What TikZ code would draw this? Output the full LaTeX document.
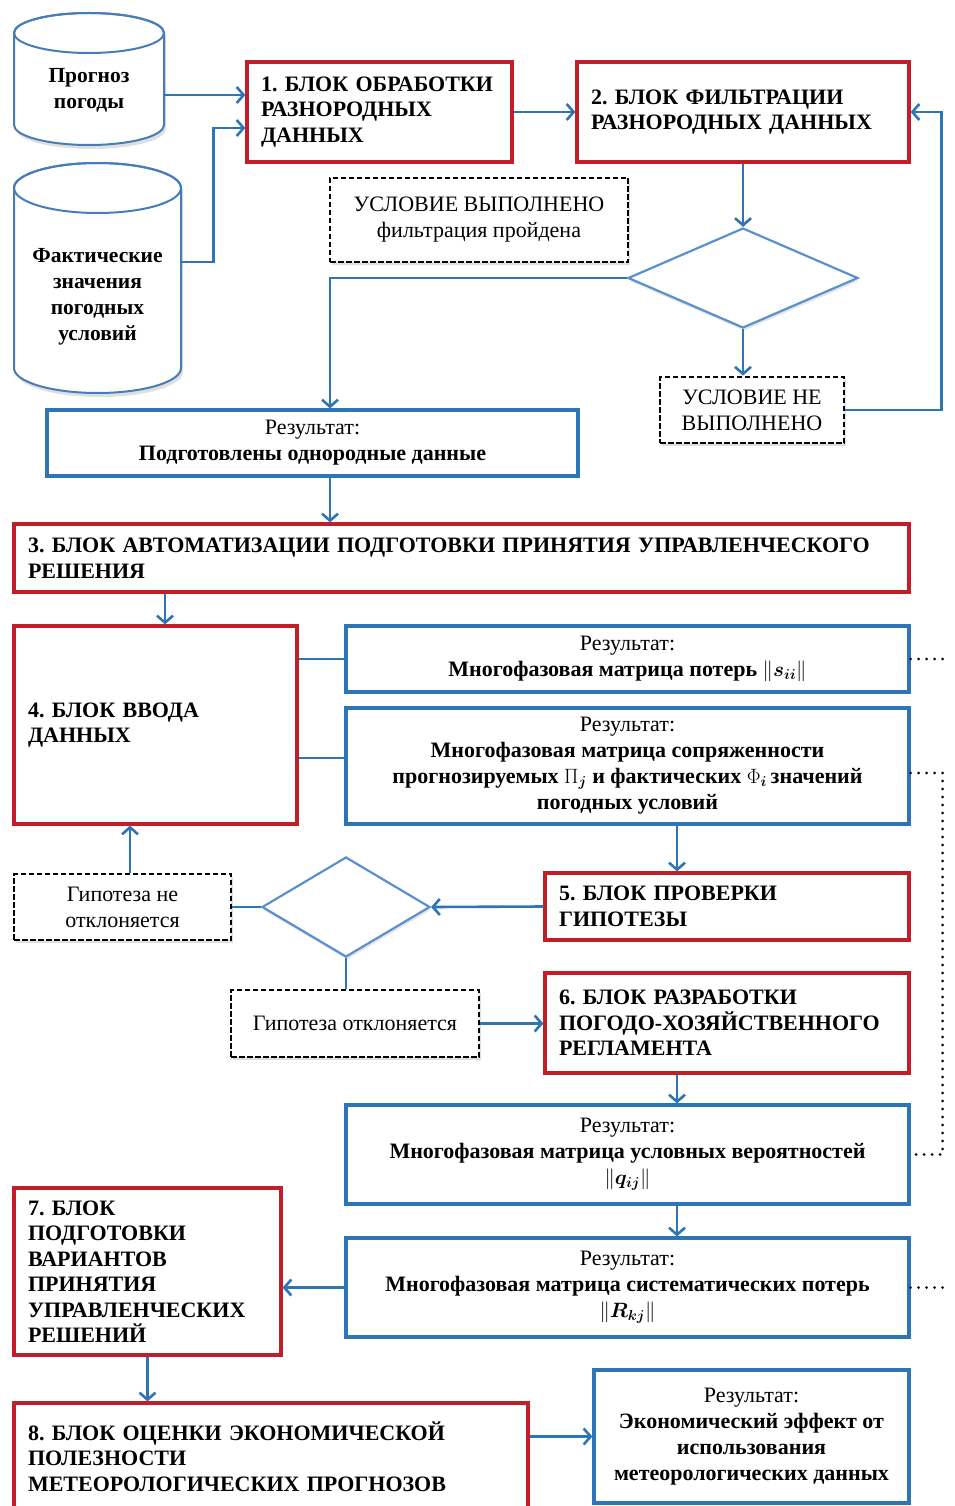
\documentclass[tikz,border=0pt]{standalone}
\usepackage{amsmath,bm}
\usepackage{fontspec}
\setmainfont{Liberation Serif}
\usetikzlibrary{arrows.meta,shapes.geometric,shadows,calc}
\definecolor{redc}{RGB}{192,30,40}
\definecolor{bluec}{RGB}{46,117,182}
\definecolor{cylc}{RGB}{70,125,185}
\definecolor{diac}{RGB}{90,145,205}
\frenchspacing
\newcommand\ttlfont{\fontsize{22}{25.5}\selectfont\bfseries}
\newcommand\resfont{\fontsize{22}{26}\selectfont}
\newcommand\cylfont{\fontsize{21.5}{26}\selectfont\bfseries}
\newcommand\dashfont{\fontsize{22}{26}\selectfont}
\tikzset{
  redbox/.style={draw=redc, line width=3.2pt, fill=white, align=left,
    inner xsep=14pt, inner ysep=0pt, font=\ttlfont},
  bluebox/.style={draw=bluec, line width=3.2pt, fill=white, align=center,
    inner sep=0pt, font=\resfont},
  dashbox/.style={draw=black, line width=2.8pt, dash pattern=on 5.5pt off 2.5pt,
    fill=white, align=center, inner sep=0pt, font=\dashfont,
    drop shadow={shadow xshift=2pt, shadow yshift=-3pt, opacity=.25}},
  diam/.style={diamond, draw=diac, line width=2.2pt, fill=white, inner sep=0pt,
    aspect=2.3, drop shadow={shadow xshift=1pt, shadow yshift=-3pt, opacity=.2}},
  cyltext/.style={align=center, inner sep=0pt, font=\cylfont},
  cylbody/.style={draw=cylc, line width=2pt, fill=white,
    drop shadow={shadow xshift=2pt, shadow yshift=-4pt, opacity=.25}},
  arr/.style={draw=bluec, line width=2.6pt, -{Straight Barb[length=7pt,width=16pt]}},
  link/.style={draw=bluec, line width=2.6pt},
  dots/.style={draw=black, line width=2.8pt, dash pattern=on 0pt off 8pt, line cap=round}
}
\begin{document}
\begin{tikzpicture}[x=1pt,y=-1pt]
\useasboundingbox (0,0) rectangle (954,1506);
\clip (0,0) rectangle (954,1506);
\fill[white] (0,0) rectangle (954,1506);

% data sources drawn as cylinders
\path[cylbody] (14,33) -- (14,125) arc[start angle=180, end angle=360, x radius=75pt, y radius=20pt] -- (164,33)
  arc[start angle=0, end angle=180, x radius=75pt, y radius=20pt] -- cycle;
\draw[draw=cylc, line width=2pt] (89,33) ellipse[x radius=75pt, y radius=20pt];
\node[cyltext, minimum width=150pt] (c1) at (89,90) {Прогноз\\погоды};

\path[cylbody] (14,188) -- (14,368) arc[start angle=180, end angle=360, x radius=83.5pt, y radius=25pt] -- (181,188)
  arc[start angle=0, end angle=180, x radius=83.5pt, y radius=25pt] -- cycle;
\draw[draw=cylc, line width=2pt] (97.5,188) ellipse[x radius=83.5pt, y radius=25pt];
\node[cyltext, minimum width=167pt] (c2) at (97.5,297) {Фактические\\значения\\погодных\\условий};

% processing blocks
\node[redbox, minimum width=265pt, minimum height=100pt, text width=237pt] (b1) at (379.5,112)
  {1. БЛОК ОБРАБОТКИ\\РАЗНОРОДНЫХ\\ДАННЫХ};
\node[redbox, minimum width=332pt, minimum height=100pt, text width=304pt] (b2) at (743,112)
  {2. БЛОК ФИЛЬТРАЦИИ\\РАЗНОРОДНЫХ ДАННЫХ};
\node[dashbox, minimum width=298pt, minimum height=84pt] (cond1) at (479,220)
  {УСЛОВИЕ ВЫПОЛНЕНО\\фильтрация пройдена};
\node[diam, minimum width=230pt, minimum height=100pt] (d1) at (743,278) {};
\node[dashbox, minimum width=184pt, minimum height=66pt] (cond2) at (752,410)
  {УСЛОВИЕ НЕ\\ВЫПОЛНЕНО};
\node[bluebox, minimum width=531pt, minimum height=66pt] (r1) at (312.5,443)
  {Результат:\\\textbf{Подготовлены однородные данные}};
\node[redbox, minimum width=895pt, minimum height=68pt, text width=867pt] (b3) at (461.5,558)
  {3. БЛОК АВТОМАТИЗАЦИИ ПОДГОТОВКИ ПРИНЯТИЯ УПРАВЛЕНЧЕСКОГО\\РЕШЕНИЯ};
\node[redbox, minimum width=283pt, minimum height=198pt, text width=255pt] (b4) at (155.5,725)
  {4. БЛОК ВВОДА\\ДАННЫХ};
\node[bluebox, minimum width=563pt, minimum height=66pt] (r2) at (627.5,659)
  {Результат:\\\textbf{Многофазовая матрица потерь} $\|\bm{s}_{\bm{ii}}\|$};
\node[bluebox, minimum width=563pt, minimum height=116pt] (r3) at (627.5,766)
  {Результат:\\\textbf{Многофазовая матрица сопряженности}\\
   \textbf{прогнозируемых} $\Pi_{\bm{j}}$ \textbf{и фактических} $\Phi_{\bm{i}}$\,\textbf{значений}\\
   \textbf{погодных условий}};
\node[redbox, minimum width=364pt, minimum height=67pt, text width=336pt] (b5) at (727,906.5)
  {5. БЛОК ПРОВЕРКИ\\ГИПОТЕЗЫ};
\node[diam, minimum width=168pt, minimum height=100pt] (d2) at (346,907) {};
\node[dashbox, minimum width=217pt, minimum height=66pt] (h1) at (122.5,907)
  {Гипотеза не\\отклоняется};
\node[dashbox, minimum width=248pt, minimum height=67pt] (h2) at (355,1023.5)
  {Гипотеза отклоняется};
\node[redbox, minimum width=364pt, minimum height=100pt, text width=336pt] (b6) at (727,1023)
  {6. БЛОК РАЗРАБОТКИ\\ПОГОДО-ХОЗЯЙСТВЕННОГО\\РЕГЛАМЕНТА};
\node[bluebox, minimum width=563pt, minimum height=99pt] (r4) at (627.5,1154.5)
  {Результат:\\\textbf{Многофазовая матрица условных вероятностей}\\$\|\bm{q}_{\bm{ij}}\|$};
\node[bluebox, minimum width=563pt, minimum height=99pt] (r5) at (627.5,1287.5)
  {Результат:\\\textbf{Многофазовая матрица систематических потерь}\\$\|\bm{R}_{\bm{kj}}\|$};
\node[redbox, minimum width=267pt, minimum height=167pt, text width=239pt] (b7) at (147.5,1271.5)
  {7. БЛОК\\ПОДГОТОВКИ\\ВАРИАНТОВ\\ПРИНЯТИЯ\\УПРАВЛЕНЧЕСКИХ\\РЕШЕНИЙ};
\node[redbox, minimum width=514pt, minimum height=107pt, text width=486pt] (b8) at (271,1456.5)
  {8. БЛОК ОЦЕНКИ ЭКОНОМИЧЕСКОЙ\\ПОЛЕЗНОСТИ\\МЕТЕОРОЛОГИЧЕСКИХ ПРОГНОЗОВ};
\node[bluebox, minimum width=315pt, minimum height=133pt] (r6) at (751.5,1436.5)
  {Результат:\\\textbf{Экономический эффект от}\\\textbf{использования}\\\textbf{метеорологических данных}};

% shared column of the right-hand chain
\coordinate (colx) at (677,0);
\coordinate (e1) at (950,659);
\coordinate (e2) at (950,1287.5);

% connectors
\draw[arr] ([yshift=-5pt]c1.east) -- ([yshift=-5pt]c1.east -| b1.west);
\draw[arr] ([yshift=35pt]c2.east) -- ++(32,0) |- ([yshift=-16pt]b1.west);
\draw[arr] (b1.east) -- (b2.west);
\draw[arr] (b2.south) -- (d1.north);
\draw[arr] (d1.west) -| ([xshift=17.5pt]r1.north);
\draw[arr] (d1.south) -- (d1.south |- cond2.north);
\draw[arr] (cond2.east) -- ++(96,0) |- (b2.east);
\draw[arr] ([xshift=17.5pt]r1.south) -- ([xshift=17.5pt]r1.south |- b3.north);
\draw[arr] ([xshift=9.5pt]b4.north |- b3.south) -- ([xshift=9.5pt]b4.north);
\draw[link] (b4.east |- r2.west) -- (r2.west);
\draw[link] ([yshift=8pt]r3.west -| b4.east) -- ([yshift=8pt]r3.west);
\draw[arr] (r3.south -| colx) -- (b5.north -| colx);
\draw[arr] (b5.west) -- (d2.east);
\draw[link] (d2.west) -- (h1.east);
\draw[arr] ([xshift=7.5pt]h1.north) -- ([xshift=7.5pt]h1.north |- b4.south);
\draw[link] (d2.south) -- (d2.south |- h2.north);
\draw[arr] (h2.east) -- (h2.east -| b6.west);
\draw[arr] (b6.south -| colx) -- (r4.north -| colx);
\draw[arr] (r4.south -| colx) -- (r5.north -| colx);
\draw[arr] (r5.west) -- (r5.west -| b7.east);
\draw[arr] (b7.south) -- (b7.south |- b8.north);
\draw[arr] (r6.west -| b8.east) -- (r6.west);

% dotted links between the result matrices
\draw[dots] (r2.east) -- (e1);
\draw[dots] ([yshift=-7pt]r3.east) -- ++(32,0) |- (r4.east);
\draw[dots] (r5.east) -- (e2);
\end{tikzpicture}
\end{document}
